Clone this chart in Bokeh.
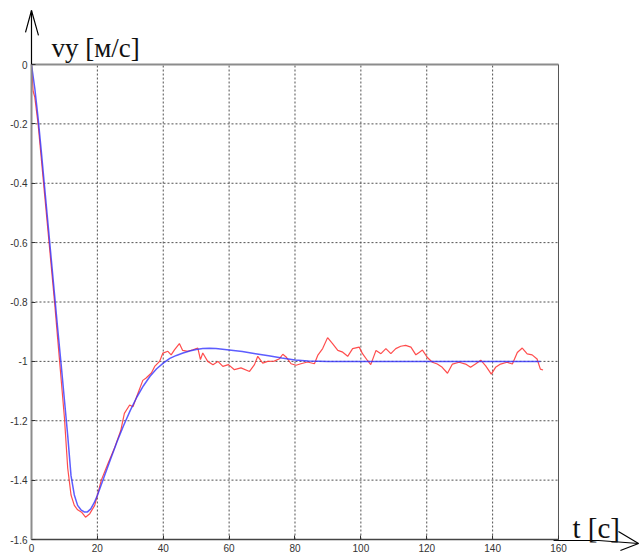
from bokeh.plotting import figure
from bokeh.models import Label, FixedTicker, Range1d
from bokeh.embed import file_html
from bokeh.resources import INLINE

# model response (blue)
t_model = [0, 1, 2, 3, 4, 5, 6, 7, 8, 9, 10, 11, 12, 13, 14, 15, 16, 17, 18, 19, 20,
           22, 24, 26, 28, 30, 32, 34, 36, 38, 40, 42, 44, 46, 48, 50, 52, 54, 56,
           60, 64, 68, 72, 76, 80, 84, 90, 100, 120, 140, 154.5]
v_model = [0, -0.08, -0.18, -0.295, -0.415, -0.535, -0.655, -0.775, -0.895, -1.01, -1.13,
           -1.25, -1.385, -1.45, -1.485, -1.5, -1.507, -1.507, -1.497, -1.477, -1.452,
           -1.39, -1.33, -1.27, -1.215, -1.165, -1.12, -1.082, -1.05, -1.025, -1.006,
           -0.99, -0.98, -0.972, -0.965, -0.96, -0.957, -0.956, -0.957,
           -0.962, -0.967, -0.974, -0.981, -0.989, -0.995, -0.999, -1.0, -1.0, -1.0, -1.0, -1.0]

# measured (red)
t_meas = [0, 0.5, 1, 2, 3, 4, 5, 6, 7, 8, 9, 10, 11, 12, 13, 14, 15.2, 16.4, 17.7, 19.2,
          21.2, 23.2, 25.3, 27.1, 28.2, 29.8, 30.8, 32.3, 33.8, 34.8, 36.4, 37.4, 38.9,
          39.9, 41.4, 42.4, 43.4, 44.9, 45.9, 47.5, 49.0, 50.5, 51.3, 52.0, 53.5, 55.1,
          56.6, 58.1, 59.8, 61.6, 63.6, 66.2, 67.7, 68.7, 70.2, 71.7, 73.7, 75.3, 76.3,
          77.3, 78.8, 80.3, 81.8, 83.8, 85.9, 86.9, 88.4, 89.9, 91.4, 93.0, 94.5, 96.0,
          97.5, 99.5, 100.5, 102.0, 103.0, 104.6, 106.1, 107.6, 109.1, 110.6, 112.1,
          113.6, 115.2, 116.7, 117.7, 118.7, 120.2, 121.7, 123.2, 124.7, 126.3, 127.8,
          129.8, 131.8, 133.3, 134.8, 136.4, 137.9, 139.6, 140.9, 142.4, 144.4, 146.0,
          147.5, 149.0, 150.5, 152.0, 153.5, 154.5, 155.3]
v_meas = [0, -0.09, -0.11, -0.2, -0.32, -0.44, -0.56, -0.68, -0.8, -0.93, -1.06, -1.19,
          -1.36, -1.45, -1.485, -1.5, -1.508, -1.525, -1.513, -1.485,
          -1.4, -1.345, -1.289, -1.233, -1.175, -1.147, -1.153, -1.108, -1.064, -1.056,
          -1.039, -1.017, -1.0, -0.972, -0.966, -0.978, -0.961, -0.94, -0.963, -0.966,
          -0.961, -0.955, -0.994, -0.972, -1.0, -1.011, -1.0, -1.017, -1.011, -1.028,
          -1.022, -1.034, -1.011, -0.983, -1.006, -1.0, -0.999, -0.991, -0.976, -0.985,
          -1.008, -1.013, -1.008, -1.002, -1.008, -0.98, -0.957, -0.92, -0.94, -0.963,
          -0.969, -0.983, -0.957, -0.952, -0.974, -0.997, -1.011, -0.963, -0.974, -0.957,
          -0.974, -0.957, -0.949, -0.946, -0.952, -0.978, -0.97, -0.962, -0.987, -1.003,
          -1.009, -1.02, -1.04, -1.009, -1.003, -1.009, -1.02, -1.009, -0.996, -1.015,
          -1.043, -1.02, -1.009, -1.003, -1.009, -0.97, -0.955, -0.975, -0.978, -0.992,
          -1.026, -1.029]

x_ticks = [0, 20, 40, 60, 80, 100, 120, 140, 160]
y_ticks = [0, -0.2, -0.4, -0.6, -0.8, -1.0, -1.2, -1.4, -1.6]
y_labels = ["0", "-0.2", "-0.4", "-0.6", "-0.8", "-1", "-1.2", "-1.4", "-1.6"]

y_title = "vy [м/с]"
x_title = "t [с]"

# axis arrows (shape of the arrow heads, data units)
y_arrow_x = [0, 0, -1.82, 0, 2.12]
y_arrow_y = [0, 0.182, 0.108, 0.182, 0.098]
x_arrow_x = [158.5, 172.2, 184.3, 178.2, 184.3, 178.8]
x_arrow_y = [-1.6034, -1.6034, -1.6135, -1.5731, -1.6135, -1.6371]

t0, t1 = x_ticks[0], x_ticks[-1]
v0, v1 = y_ticks[-1], y_ticks[0]

# the frame covers the whole canvas; axes sit at fixed locations
p = figure(width=640, height=558, output_backend="svg", toolbar_location=None,
           x_range=Range1d(-9.41, 184.9), y_range=Range1d(-1.664, 0.2156),
           min_border_left=0, min_border_right=0, min_border_top=0,
           min_border_bottom=0, background_fill_color="white",
           border_fill_color="white", outline_line_color=None)
p.xgrid.visible = False
p.ygrid.visible = False

tick_font = "Liberation Sans"

p.xaxis.ticker = FixedTicker(ticks=x_ticks)
p.yaxis.ticker = FixedTicker(ticks=y_ticks)
p.yaxis.major_label_overrides = {k: l for k, l in zip(y_ticks, y_labels)}
p.xaxis.fixed_location = v0
p.yaxis.fixed_location = t0
p.xaxis.bounds = (t0, t1)
p.yaxis.bounds = (v0, v1)

for ax in p.xaxis + p.yaxis:
    ax.major_tick_in = 4
    ax.major_tick_out = 0
    ax.minor_tick_line_color = None
    ax.major_tick_line_color = "#333333"
    ax.major_label_text_font = tick_font
    ax.major_label_text_font_size = "10px"
    ax.major_label_text_color = "#333333"
    ax.major_label_standoff = 4

p.yaxis.axis_line_color = "#8c8c8c"
p.yaxis.axis_line_width = 2
p.xaxis.axis_line_color = "#444444"
p.xaxis.axis_line_width = 1.5

# dotted grid inside the box
gx = x_ticks[1:-1]
p.segment(x0=gx, y0=[v0] * len(gx), x1=gx, y1=[v1] * len(gx),
          line_color="#505050", line_dash="2 2", line_width=1)
gy = y_ticks[1:-1]
p.segment(x0=[t0] * len(gy), y0=gy, x1=[t1] * len(gy), y1=gy,
          line_color="#505050", line_dash="2 2", line_width=1)

# top and right edges of the box
p.segment(x0=[t0], y0=[v1], x1=[t1], y1=[v1], line_color="#8c8c8c", line_width=2)
p.segment(x0=[t1], y0=[v0], x1=[t1], y1=[v1], line_color="#555555", line_width=1)

p.line(t_meas, v_meas, line_color="#ff3a3a", line_width=1.2, line_alpha=0.9)
p.line(t_model, v_model, line_color="#3535ff", line_width=1.5, line_alpha=0.8)

# arrows
p.line(y_arrow_x[:2], y_arrow_y[:2], line_color="black", line_width=1.2)
p.line(y_arrow_x[2:], y_arrow_y[2:], line_color="black", line_width=1.2)
p.line(x_arrow_x[:3], x_arrow_y[:3], line_color="black", line_width=1.2)
p.line(x_arrow_x[3:], x_arrow_y[3:], line_color="black", line_width=1.2)

p.add_layout(Label(x=6.07, y=0.054, text=y_title, text_font="Liberation Serif",
                   text_font_size="27px", text_color="#111111",
                   text_baseline="alphabetic"))
p.add_layout(Label(x=164.25, y=-1.5596, text=x_title, text_font="Liberation Serif",
                   text_font_size="29px", text_color="#111111",
                   text_baseline="alphabetic"))

open("out.html", "w").write(file_html(p, INLINE))
